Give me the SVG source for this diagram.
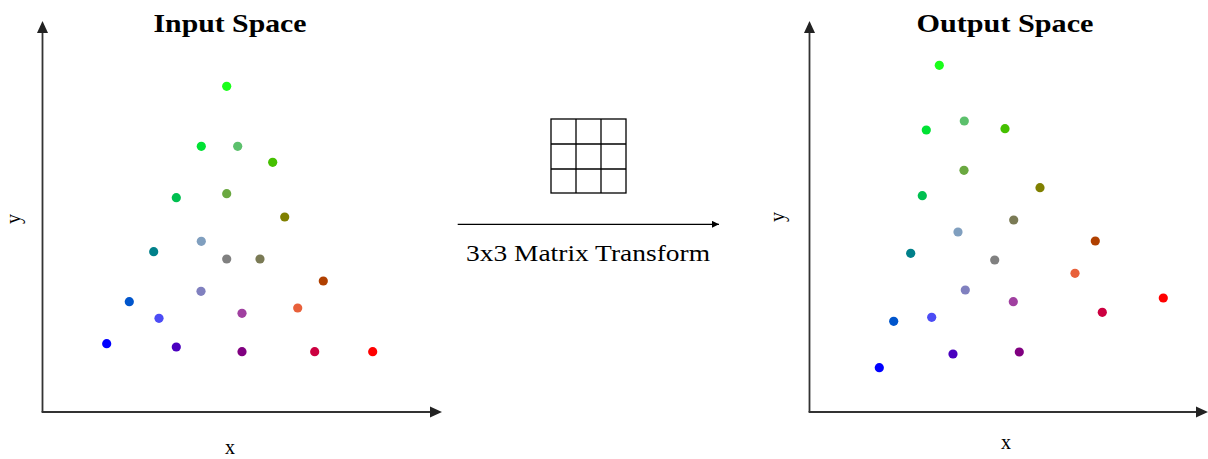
<svg xmlns="http://www.w3.org/2000/svg" width="1208" height="459" viewBox="0 0 1208 459">
  <style>
    .axis { stroke: #333; stroke-width: 1.8; fill: none; }
    .ahead { fill: #222; stroke: none; }
    .title { font-family: "Liberation Serif", "Times New Roman", serif; font-weight: bold; font-size: 25px; fill: #000; text-anchor: middle; }
    .lbl { font-family: "Liberation Serif", "Times New Roman", serif; font-size: 20px; fill: #000; text-anchor: middle; }
    .cap { font-family: "Liberation Serif", "Times New Roman", serif; font-size: 24px; fill: #000; text-anchor: middle; }
    .grid { stroke: #000; stroke-width: 1.3; fill: none; }
    .conn { stroke: #000; stroke-width: 1.3; fill: none; }
  </style>
  <defs>
    <marker id="arr" viewBox="0 0 10 10" refX="10" refY="5" markerWidth="7" markerHeight="7" markerUnits="userSpaceOnUse" orient="auto">
      <path d="M0,0 L10,5 L0,10 Z" fill="#000"/>
    </marker>
  </defs>
  <rect width="1208" height="459" fill="#fff"/>

  <!-- Input plot -->
  <g id="input-space">
    <line class="axis" x1="42.5" y1="412" x2="42.5" y2="32"/>
    <polygon class="ahead" points="42.5,21 37,33 48,33"/>
    <line class="axis" x1="41.6" y1="412" x2="431" y2="412"/>
    <polygon class="ahead" points="442,412 430,406.5 430,417.5"/>
    <text class="title" x="230" y="31.5" textLength="153" lengthAdjust="spacingAndGlyphs">Input Space</text>
    <text class="lbl" x="230" y="454">x</text>
    <text class="lbl" transform="translate(19.5,219) rotate(-90)" x="0" y="0">y</text>
    <g id="input-points">
      <circle cx="226.7" cy="86.3" r="4.6" fill="#1aff1a"/>
      <circle cx="201.3" cy="146.3" r="4.6" fill="#00e234"/>
      <circle cx="237.7" cy="146.3" r="4.6" fill="#5cc06c"/>
      <circle cx="272.7" cy="162.3" r="4.6" fill="#45c000"/>
      <circle cx="176.3" cy="197.7" r="4.6" fill="#00bf50"/>
      <circle cx="226.7" cy="193.7" r="4.6" fill="#6aa840"/>
      <circle cx="284.7" cy="217" r="4.6" fill="#808000"/>
      <circle cx="201.3" cy="241.3" r="4.6" fill="#809fbf"/>
      <circle cx="153.7" cy="251.7" r="4.6" fill="#00808a"/>
      <circle cx="226.7" cy="259" r="4.6" fill="#808080"/>
      <circle cx="260" cy="259" r="4.6" fill="#7a7a55"/>
      <circle cx="323.3" cy="281" r="4.6" fill="#b04000"/>
      <circle cx="201" cy="291.3" r="4.6" fill="#8080bf"/>
      <circle cx="129.3" cy="301.7" r="4.6" fill="#0055cc"/>
      <circle cx="159" cy="318.3" r="4.6" fill="#4c4cf5"/>
      <circle cx="242" cy="313.3" r="4.6" fill="#a040a0"/>
      <circle cx="297.7" cy="308" r="4.6" fill="#e8603a"/>
      <circle cx="106.7" cy="343.7" r="4.6" fill="#0000ff"/>
      <circle cx="176.3" cy="347" r="4.6" fill="#4a00bf"/>
      <circle cx="242" cy="351.7" r="4.6" fill="#800080"/>
      <circle cx="314.7" cy="351.7" r="4.6" fill="#cc0040"/>
      <circle cx="372.7" cy="351.7" r="4.6" fill="#ff0000"/>
    </g>
  </g>

  <!-- Matrix -->
  <g id="matrix">
    <rect class="grid" x="551" y="119" width="75" height="74"/>
    <line class="grid" x1="576" y1="119" x2="576" y2="193"/>
    <line class="grid" x1="601" y1="119" x2="601" y2="193"/>
    <line class="grid" x1="551" y1="144" x2="626" y2="144"/>
    <line class="grid" x1="551" y1="169" x2="626" y2="169"/>
  </g>

  <!-- Connector -->
  <g id="connectors">
    <line class="conn" x1="457.7" y1="224.3" x2="719" y2="224.3" marker-end="url(#arr)"/>
    <text class="cap" x="588" y="260.5" textLength="244" lengthAdjust="spacingAndGlyphs">3x3 Matrix Transform</text>
  </g>

  <!-- Output plot -->
  <g id="output-space">
    <line class="axis" x1="809.5" y1="412" x2="809.5" y2="32"/>
    <polygon class="ahead" points="809.5,21 804,33 815,33"/>
    <line class="axis" x1="808.6" y1="412" x2="1197" y2="412"/>
    <polygon class="ahead" points="1208,412 1196,406.5 1196,417.5"/>
    <text class="title" x="1005" y="31.5" textLength="177" lengthAdjust="spacingAndGlyphs">Output Space</text>
    <text class="lbl" x="1006" y="449">x</text>
    <text class="lbl" transform="translate(784,217) rotate(-90)" x="0" y="0">y</text>
    <g id="output-points">
      <circle cx="939.3" cy="65.3" r="4.6" fill="#1aff1a"/>
      <circle cx="926.3" cy="130" r="4.6" fill="#00e234"/>
      <circle cx="964.3" cy="121" r="4.6" fill="#5cc06c"/>
      <circle cx="1005" cy="128.7" r="4.6" fill="#45c000"/>
      <circle cx="964" cy="170.3" r="4.6" fill="#6aa840"/>
      <circle cx="922.3" cy="195.7" r="4.6" fill="#00bf50"/>
      <circle cx="1040" cy="187.7" r="4.6" fill="#808000"/>
      <circle cx="1013.7" cy="220" r="4.6" fill="#7a7a55"/>
      <circle cx="958" cy="232" r="4.6" fill="#809fbf"/>
      <circle cx="910.7" cy="253.3" r="4.6" fill="#00808a"/>
      <circle cx="994.7" cy="260" r="4.6" fill="#808080"/>
      <circle cx="1095.3" cy="241" r="4.6" fill="#b04000"/>
      <circle cx="1075" cy="273.3" r="4.6" fill="#e8603a"/>
      <circle cx="965.3" cy="290" r="4.6" fill="#8080bf"/>
      <circle cx="1013.3" cy="301.7" r="4.6" fill="#a040a0"/>
      <circle cx="1163.3" cy="298" r="4.6" fill="#ff0000"/>
      <circle cx="1102.3" cy="312.3" r="4.6" fill="#cc0040"/>
      <circle cx="893.7" cy="321.3" r="4.6" fill="#0055cc"/>
      <circle cx="931.7" cy="317.3" r="4.6" fill="#4c4cf5"/>
      <circle cx="953" cy="354" r="4.6" fill="#4a00bf"/>
      <circle cx="1019.3" cy="352" r="4.6" fill="#800080"/>
      <circle cx="879.3" cy="367.7" r="4.6" fill="#0000ff"/>
    </g>
  </g>
</svg>
